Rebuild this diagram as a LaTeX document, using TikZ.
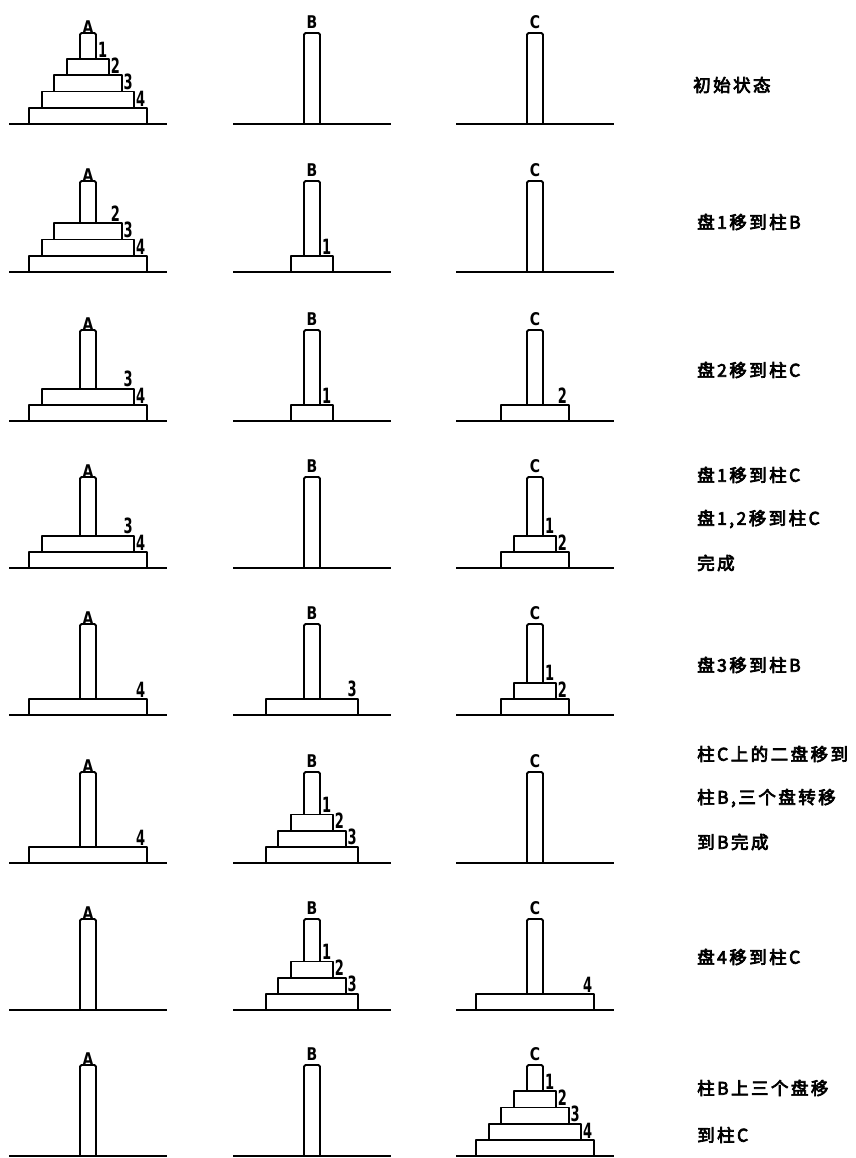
\documentclass[tikz,border=0pt]{standalone}
\usepackage{fontspec}
\usepackage{graphicx}
\newfontfamily\cjk{Noto Sans CJK SC}[LetterSpace=14, FakeBold=4]
\newfontfamily\lab{DejaVu Sans}
\newcommand\dn[1]{\scalebox{0.62}[1]{#1}}
\newcommand\pn[1]{\scalebox{0.8}[1]{#1}}
\tikzset{
  ln/.style={line width=1.8pt, line join=round},
  discbox/.style={ln, fill=white},
  pegbox/.style={ln, rounded corners=1.5pt},
  pname/.style={font=\lab\bfseries\fontsize{17.5}{17.5}\selectfont, inner sep=0pt, anchor=south},
  dnum/.style={font=\lab\bfseries\fontsize{21}{21}\selectfont, inner sep=0pt, anchor=south east},
  capt/.style={font=\cjk\fontsize{17.5}{17.5}\selectfont, inner sep=0pt, anchor=west},
}
% #1 x centre, #2 baseline y, #3 letter, #4 lift of letter
\newcommand\Peg[4]{%
  \draw[ln] (#1-79,#2) -- (#1+79,#2);
  \draw[pegbox] (#1-8,#2) -- (#1-8,#2-91) -- (#1+8,#2-91) -- (#1+8,#2);
  \node[pname] at (#1,#2-91-#4) {\pn{#3}};
}
% #1 x centre, #2 baseline y, #3 level (0 = bottom), #4 disc number
\newcommand\Disc[4]{%
  \pgfmathsetmacro\hw{(16.7+25.3*#4)/2}%
  \pgfmathsetmacro\yb{#2-16.2*#3}%
  \pgfmathsetmacro\yt{\yb-16.2}%
  \draw[discbox] (#1-\hw,\yb) rectangle (#1+\hw,\yt);
  \node[dnum] at (#1+\hw-1.5,\yt-1.5) {\dn{#4}};
}
\begin{document}
\begin{tikzpicture}[x=1pt,y=-1pt]
\useasboundingbox (0,0) rectangle (855,1158);
\def\xa{88}\def\xb{312}\def\xc{535}
% row 1
\def\r{124}
\Peg{\xa}{\r}{A}{-1}\Peg{\xb}{\r}{B}{4}\Peg{\xc}{\r}{C}{4}
\Disc{\xa}{\r}{0}{4}\Disc{\xa}{\r}{1}{3}\Disc{\xa}{\r}{2}{2}\Disc{\xa}{\r}{3}{1}
\node[capt] (t1) at (693,85) {初始状态};
% row 2
\def\r{272}
\Peg{\xa}{\r}{A}{-1}\Peg{\xb}{\r}{B}{4}\Peg{\xc}{\r}{C}{4}
\Disc{\xa}{\r}{0}{4}\Disc{\xa}{\r}{1}{3}\Disc{\xa}{\r}{2}{2}
\Disc{\xb}{\r}{0}{1}
\node[capt] (t2) at (697,222) {盘1移到柱B};
% row 3
\def\r{421}
\Peg{\xa}{\r}{A}{-1}\Peg{\xb}{\r}{B}{4}\Peg{\xc}{\r}{C}{4}
\Disc{\xa}{\r}{0}{4}\Disc{\xa}{\r}{1}{3}
\Disc{\xb}{\r}{0}{1}
\Disc{\xc}{\r}{0}{2}
\node[capt] (t3) at (697,370) {盘2移到柱C};
% row 4
\def\r{568}
\Peg{\xa}{\r}{A}{-1}\Peg{\xb}{\r}{B}{4}\Peg{\xc}{\r}{C}{4}
\Disc{\xa}{\r}{0}{4}\Disc{\xa}{\r}{1}{3}
\Disc{\xc}{\r}{0}{2}\Disc{\xc}{\r}{1}{1}
\node[capt] (t4a) at (697,475) {盘1移到柱C};
\node[capt] (t4b) at (697,519) {盘1,2移到柱C};
\node[capt] (t4c) at (697,563) {完成};
% row 5
\def\r{715}
\Peg{\xa}{\r}{A}{-1}\Peg{\xb}{\r}{B}{4}\Peg{\xc}{\r}{C}{4}
\Disc{\xa}{\r}{0}{4}
\Disc{\xb}{\r}{0}{3}
\Disc{\xc}{\r}{0}{2}\Disc{\xc}{\r}{1}{1}
\node[capt] (t5) at (697,665) {盘3移到柱B};
% row 6
\def\r{863}
\Peg{\xa}{\r}{A}{-1}\Peg{\xb}{\r}{B}{4}\Peg{\xc}{\r}{C}{4}
\Disc{\xa}{\r}{0}{4}
\Disc{\xb}{\r}{0}{3}\Disc{\xb}{\r}{1}{2}\Disc{\xb}{\r}{2}{1}
\node[capt] (t6a) at (697,754) {柱C上的二盘移到};
\node[capt] (t6b) at (697,798) {柱B,三个盘转移};
\node[capt] (t6c) at (697,842) {到B完成};
% row 7
\def\r{1010}
\Peg{\xa}{\r}{A}{-1}\Peg{\xb}{\r}{B}{4}\Peg{\xc}{\r}{C}{4}
\Disc{\xb}{\r}{0}{3}\Disc{\xb}{\r}{1}{2}\Disc{\xb}{\r}{2}{1}
\Disc{\xc}{\r}{0}{4}
\node[capt] (t7) at (697,957) {盘4移到柱C};
% row 8
\def\r{1156}
\Peg{\xa}{\r}{A}{-1}\Peg{\xb}{\r}{B}{4}\Peg{\xc}{\r}{C}{4}
\Disc{\xc}{\r}{0}{4}\Disc{\xc}{\r}{1}{3}\Disc{\xc}{\r}{2}{2}\Disc{\xc}{\r}{3}{1}
\node[capt] (t8a) at (697,1088) {柱B上三个盘移};
\node[capt] (t8b) at (697,1135) {到柱C};
\end{tikzpicture}
\end{document}
